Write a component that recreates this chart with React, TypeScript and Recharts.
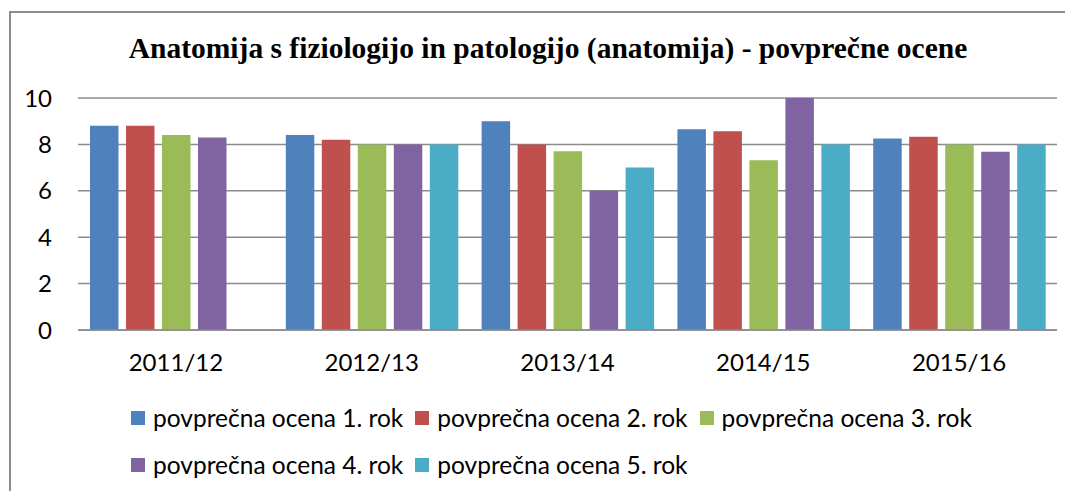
import { useLayoutEffect } from "react";
import { Bar, BarChart, CartesianGrid, Legend, XAxis, YAxis } from "recharts";

const categories = ["2011/12", "2012/13", "2013/14", "2014/15", "2015/16"];
const rok1 = [8.8, 8.4, 9.0, 8.65, 8.25];
const rok2 = [8.8, 8.2, 8.0, 8.57, 8.33];
const rok3 = [8.4, 8.0, 7.7, 7.32, 8.0];
const rok4 = [8.3, 8.0, 6.0, 10.0, 7.68];
const rok5 = [null, 8.0, 7.0, 8.0, 8.0];

const seriesNames = [
  "povprečna ocena 1. rok",
  "povprečna ocena 2. rok",
  "povprečna ocena 3. rok",
  "povprečna ocena 4. rok",
  "povprečna ocena 5. rok",
];
const COLORS = ["#4F81BD", "#C0504D", "#9BBB59", "#8064A2", "#4BACC6"];
const yTicks = [0, 2, 4, 6, 8, 10];

const data = categories.map((year, i) => ({
  year,
  r1: rok1[i],
  r2: rok2[i],
  r3: rok3[i],
  r4: rok4[i],
  r5: rok5[i],
}));

const FONT = "Lato, 'Open Sans', sans-serif";
const FS = 24;

function renderLegend(props: any) {
  const { payload } = props;
  return (
    <div style={{ display: "flex", flexWrap: "wrap", fontFamily: FONT, fontSize: 24.5, color: "#000" }}>
      {payload.map((entry: any, index: number) => (
        <div
          key={`item-${index}`}
          style={{ display: "flex", alignItems: "center", height: 47, marginRight: 12 }}
        >
          <span style={{ width: 14, height: 14, background: entry.color, marginRight: 8, display: "inline-block" }} />
          <span>{entry.value}</span>
        </div>
      ))}
    </div>
  );
}

export default function App() {
  // no scrollbars on the page
  useLayoutEffect(() => {
    document.documentElement.style.overflow = "hidden";
    document.body.style.overflow = "hidden";
  }, []);

  return (
    <div
      style={{
        position: "relative",
        width: 1073,
        height: 499,
        margin: -8,
        overflow: "hidden",
        background: "#fff",
      }}
    >
      <div
        style={{
          position: "absolute",
          left: 9,
          top: 11,
          right: 0,
          bottom: 0,
          borderLeft: "2px solid #8c8c8c",
          borderTop: "2px solid #8c8c8c",
        }}
      />
      <div
        style={{
          position: "absolute",
          left: 8,
          top: 32,
          width: 1080,
          textAlign: "center",
          fontFamily: "'Liberation Serif', 'Times New Roman', serif",
          fontWeight: "bold",
          fontSize: 29.5,
          color: "#000",
        }}
      >
        Anatomija s fiziologijo in patologijo (anatomija) - povprečne ocene
      </div>
      <BarChart
        width={1065}
        height={491}
        data={data}
        margin={{ top: 90, right: 16, left: 0, bottom: 129 }}
        barSize={28.5}
        barGap={7.5}
        style={{ position: "absolute", left: 8, top: 8 }}
      >
        <CartesianGrid vertical={false} stroke="#8c8c8c" strokeWidth={1.5} />
        <XAxis
          dataKey="year"
          height={40}
          tickLine={false}
          tickSize={0}
          tickMargin={24}
          axisLine={{ stroke: "#8c8c8c", strokeWidth: 1.5 }}
          tick={{ fill: "#000", fontSize: FS, fontFamily: FONT }}
        />
        <YAxis
          width={70}
          domain={[0, 10]}
          ticks={yTicks}
          tickLine={false}
          axisLine={false}
          tickSize={0}
          tickMargin={26}
          tick={{ fill: "#000", fontSize: FS, fontFamily: FONT }}
        />
        <Legend
          layout="horizontal"
          verticalAlign="middle"
          align="center"
          content={renderLegend}
          wrapperStyle={{ left: 123, top: 386, width: 920 }}
        />
        <Bar dataKey="r1" name={seriesNames[0]} fill={COLORS[0]} isAnimationActive={false} />
        <Bar dataKey="r2" name={seriesNames[1]} fill={COLORS[1]} isAnimationActive={false} />
        <Bar dataKey="r3" name={seriesNames[2]} fill={COLORS[2]} isAnimationActive={false} />
        <Bar dataKey="r4" name={seriesNames[3]} fill={COLORS[3]} isAnimationActive={false} />
        <Bar dataKey="r5" name={seriesNames[4]} fill={COLORS[4]} isAnimationActive={false} />
      </BarChart>
    </div>
  );
}
